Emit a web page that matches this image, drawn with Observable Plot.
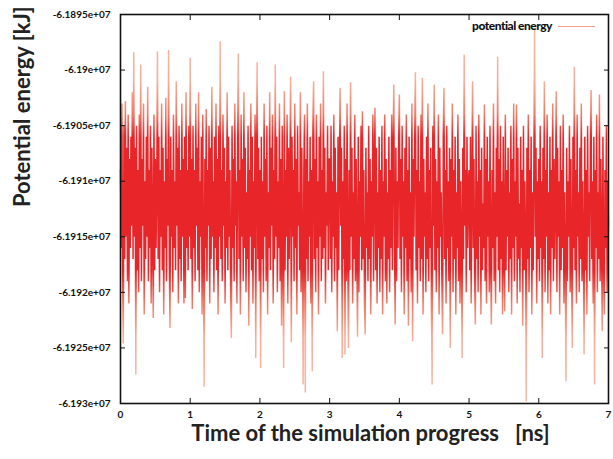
<!DOCTYPE html>
<html><head><meta charset="utf-8">
<script src="https://cdn.jsdelivr.net/npm/d3@7"></script>
<script src="https://cdn.jsdelivr.net/npm/@observablehq/plot@0.6"></script>
<style>
body{margin:0;background:#fff;}
#wrap{position:relative;width:613px;height:459px;}
#legtext{position:absolute;right:61px;top:18px;font:900 12px Lato, sans-serif;color:#111;letter-spacing:-0.5px;}
#legline{position:absolute;left:558px;top:26px;width:37px;height:1px;background:#f4a08c;}
</style></head><body><div id="wrap"><div id="legtext">potential energy</div><div id="legline"></div></div>
<script>
const seriesName = "potential energy";
const xLabel = "Time of the simulation progress\u00a0\u00a0\u00a0[ns]";
const yLabel = "Potential energy [kJ]";
const xTicks = [0, 1, 2, 3, 4, 5, 6, 7];
const xTickLabels = ["0", "1", "2", "3", "4", "5", "6", "7"];
const yTicks = [-61930000, -61925000, -61920000, -61915000, -61910000, -61905000, -61900000, -61895000];
const yTickLabels = ["-6.193e+07", "-6.1925e+07", "-6.192e+07", "-6.1915e+07", "-6.191e+07", "-6.1905e+07", "-6.19e+07", "-6.1895e+07"];
const timeStep = 0.01; // ns between samples

// potential energy [kJ], one sample every 0.01 ns (0-1 ns, 1-2 ns, ...)
const energy0 = [
-61909000,-61916000,-61903000,-61918000,-61924600,-61905000,-61917000,-61902800,-61915000,-61907000,
-61919000,-61904000,-61921000,-61908000,-61916000,-61906000,-61914000,-61902000,-61917000,-61898400,
-61915000,-61907000,-61927400,-61905000,-61918000,-61909000,-61920000,-61904000,-61916000,-61899500,
-61919000,-61908000,-61914000,-61903000,-61922000,-61910000,-61917000,-61906000,-61915000,-61901500,
-61919000,-61909000,-61916000,-61905000,-61921000,-61907000,-61914000,-61922300,-61904000,-61918000,
-61908000,-61916000,-61911000,-61898300,-61917000,-61906000,-61920000,-61909000,-61915000,-61903000,
-61918000,-61907000,-61922000,-61910000,-61916000,-61902500,-61919000,-61908000,-61914000,-61898200,
-61917000,-61923200,-61906000,-61915000,-61909000,-61920000,-61904000,-61916000,-61910000,-61918000,
-61901000,-61914000,-61907000,-61921000,-61905000,-61917000,-61909000,-61919000,-61903000,-61915000,
-61908000,-61921000,-61906000,-61920500,-61902000,-61916000,-61909000,-61918000,-61905000,-61915000];
const energy1 = [
-61898900,-61917000,-61908000,-61921500,-61905000,-61916000,-61909000,-61919000,-61903000,-61914000,
-61907000,-61918000,-61902000,-61920000,-61910000,-61915000,-61906000,-61922000,-61904000,-61917000,
-61928500,-61908000,-61916000,-61903500,-61919000,-61909000,-61914000,-61905000,-61921000,-61907000,
-61917000,-61901500,-61915000,-61910000,-61920000,-61906000,-61916000,-61903000,-61918000,-61908000,
-61922000,-61905000,-61915000,-61897400,-61917000,-61909000,-61919000,-61904000,-61914000,-61907000,
-61921000,-61910000,-61916000,-61902000,-61918000,-61906000,-61915000,-61909000,-61920000,-61924100,
-61905000,-61916000,-61908000,-61919000,-61903000,-61914000,-61910000,-61921000,-61906000,-61898500,
-61917000,-61909000,-61922000,-61904000,-61915000,-61908000,-61919000,-61902000,-61916000,-61907000,
-61920000,-61911000,-61917000,-61905000,-61923000,-61909000,-61915000,-61903000,-61918000,-61906000,
-61921000,-61910000,-61916000,-61904000,-61925900,-61908000,-61899300,-61917000,-61907000,-61919000];
const energy2 = [
-61909000,-61926800,-61906000,-61917000,-61910000,-61920000,-61903000,-61915000,-61908000,-61919000,
-61905000,-61922000,-61911000,-61916000,-61902000,-61918000,-61907000,-61914000,-61904000,-61921000,
-61909000,-61917000,-61899500,-61915000,-61906000,-61920000,-61910000,-61916000,-61903000,-61919000,
-61908000,-61923000,-61905000,-61916000,-61926800,-61901900,-61918000,-61909000,-61915000,-61904000,
-61921000,-61907000,-61917000,-61910000,-61900600,-61924500,-61906000,-61915000,-61909000,-61919000,
-61903000,-61916000,-61908000,-61922000,-61905000,-61914000,-61911000,-61918000,-61902000,-61920000,
-61907000,-61916000,-61928300,-61909000,-61904000,-61929000,-61908000,-61917000,-61903000,-61919000,
-61910000,-61915000,-61906000,-61921000,-61909000,-61927100,-61905000,-61901000,-61917000,-61908000,
-61920000,-61904000,-61916000,-61910000,-61922000,-61906000,-61915000,-61903000,-61919000,-61909000,
-61917000,-61900100,-61916000,-61907000,-61921000,-61911000,-61914000,-61905000,-61918000,-61908000];
const energy3 = [
-61908000,-61917000,-61905000,-61920000,-61910000,-61915000,-61904000,-61919000,-61907000,-61916000,
-61911000,-61923500,-61906000,-61918000,-61909000,-61901600,-61914000,-61907000,-61925900,-61910000,
-61917000,-61905000,-61925600,-61908000,-61919000,-61903000,-61916000,-61925000,-61909000,-61918000,
-61901100,-61915000,-61907000,-61921000,-61911000,-61917000,-61904000,-61919000,-61908000,-61916000,
-61924000,-61906000,-61920000,-61910000,-61915000,-61905000,-61918000,-61903700,-61917000,-61909000,
-61921000,-61923800,-61907000,-61916000,-61911000,-61919000,-61905000,-61917000,-61908000,-61922000,
-61910000,-61915000,-61904000,-61919000,-61909000,-61903400,-61918000,-61907000,-61921000,-61911000,
-61916000,-61906000,-61920000,-61909000,-61917000,-61905000,-61922000,-61910000,-61915000,-61904000,
-61919000,-61908000,-61921000,-61911000,-61917000,-61906000,-61920000,-61909000,-61916000,-61904000,
-61918000,-61908000,-61901300,-61915000,-61922900,-61907000,-61919000,-61910000,-61916000,-61906000];
const energy4 = [
-61902200,-61917000,-61908000,-61920000,-61905000,-61915000,-61910000,-61922000,-61907000,-61916000,
-61904000,-61919000,-61909000,-61923000,-61906000,-61917000,-61911000,-61920000,-61903000,-61924400,
-61908000,-61915000,-61906000,-61900200,-61918000,-61909000,-61921000,-61905000,-61916000,-61910000,
-61919000,-61904000,-61917000,-61900700,-61922000,-61908000,-61915000,-61911000,-61920000,-61906000,
-61917000,-61903000,-61919000,-61909000,-61916000,-61907000,-61921000,-61928300,-61905000,-61914000,
-61901300,-61918000,-61908000,-61920000,-61910000,-61916000,-61904000,-61922000,-61907000,-61915000,
-61911000,-61919000,-61923800,-61906000,-61901600,-61917000,-61909000,-61921000,-61905000,-61916000,
-61910000,-61919000,-61907000,-61925000,-61908000,-61915000,-61903000,-61920000,-61909000,-61917000,
-61906000,-61922000,-61911000,-61916000,-61904000,-61919000,-61908000,-61921000,-61910000,-61915000,
-61925900,-61907000,-61917000,-61898600,-61914000,-61909000,-61920000,-61906000,-61916000,-61910000];
const energy5 = [
-61909000,-61918000,-61906000,-61921000,-61911000,-61901000,-61916000,-61908000,-61919000,-61922900,
-61905000,-61917000,-61910000,-61920000,-61904000,-61915000,-61909000,-61922000,-61907000,-61918000,
-61912000,-61916000,-61903100,-61919000,-61908000,-61921000,-61906000,-61915000,-61910000,-61920000,
-61905000,-61917000,-61922900,-61909000,-61916000,-61903000,-61919000,-61911000,-61921000,-61907000,
-61915000,-61898800,-61918000,-61908000,-61920000,-61905000,-61917000,-61910000,-61922000,-61906000,
-61916000,-61921700,-61904000,-61918000,-61909000,-61915000,-61907000,-61920000,-61911000,-61917000,
-61905000,-61922000,-61908000,-61916000,-61903000,-61919000,-61910000,-61915000,-61903100,-61921000,
-61907000,-61917000,-61912000,-61920000,-61906000,-61916000,-61909000,-61923000,-61905000,-61918000,
-61910000,-61915000,-61929800,-61907000,-61917000,-61904000,-61920000,-61909000,-61916000,-61906000,
-61922000,-61911000,-61918000,-61908000,-61896200,-61915000,-61907000,-61921000,-61910000,-61917000];
const energy6 = [
-61908000,-61919000,-61905000,-61916000,-61910000,-61925900,-61907000,-61917000,-61901000,-61920000,
-61909000,-61915000,-61904000,-61921000,-61911000,-61918000,-61906000,-61922000,-61909000,-61916000,
-61903000,-61919000,-61908000,-61917000,-61912000,-61901900,-61920000,-61907000,-61915000,-61910000,
-61922000,-61905000,-61918000,-61909000,-61916000,-61904000,-61921000,-61911000,-61917000,-61928000,
-61907000,-61919000,-61910000,-61915000,-61905000,-61920000,-61908000,-61917000,-61925000,-61906000,
-61916000,-61899700,-61918000,-61909000,-61921000,-61904000,-61915000,-61911000,-61920000,-61907000,
-61917000,-61903000,-61919000,-61910000,-61916000,-61925600,-61906000,-61918000,-61909000,-61922000,
-61905000,-61915000,-61911000,-61919000,-61907000,-61901800,-61917000,-61910000,-61921000,-61906000,
-61928300,-61909000,-61916000,-61904000,-61920000,-61911000,-61917000,-61902200,-61919000,-61908000,
-61915000,-61923500,-61906000,-61918000,-61922000,-61909000,-61916000,-61905000,-61920000,-61910000,
-61914000];

// stroke shading: dense core of the trace is deep red, sparse excursions look light
const shadeLevels = [-61895000, -61901000, -61904000, -61906000, -61918000, -61921000, -61924000, -61930000];
const shadeColors = ["#f8b9a7", "#f7ae9a", "#f07a66", "#e8262a", "#e8262a", "#f07a66", "#f7ae9a", "#f8b9a7"];

const energy = [...energy0, ...energy1, ...energy2, ...energy3, ...energy4, ...energy5, ...energy6];
const table = energy.map((e, i) => ({time: +(i * timeStep).toFixed(2), energy: e, series: seriesName}));

const fmtY = d => yTickLabels[yTicks.indexOf(d)];
const fmtX = d => xTickLabels[xTicks.indexOf(d)];

const chart = Plot.plot({
  width: 613, height: 459,
  marginLeft: 120, marginRight: 5, marginTop: 14, marginBottom: 56,
  style: {fontFamily: "Lato, sans-serif", background: "#fff", color: "#111"},
  x: {domain: [0, 7]},
  y: {domain: [-61930000, -61895000]},
  marks: [
    Plot.line(table, {x: "time", y: "energy", stroke: "url(#pe-shade)", strokeWidth: 1.5, strokeLinejoin: "bevel"}),
    Plot.frame({stroke: "#111", strokeWidth: 1.6}),
    Plot.axisY(yTicks, {anchor: "left", tickSize: -5, tickPadding: 15, tickFormat: fmtY, fontSize: 10, fontWeight: "bold", label: null}),
    Plot.axisY(yTicks, {anchor: "right", tickSize: -5, tickFormat: () => "", label: null}),
    Plot.axisX(xTicks, {anchor: "bottom", tickSize: -5, tickPadding: 12, tickFormat: fmtX, fontSize: 10, fontWeight: "bold", label: null}),
    Plot.axisX(xTicks, {anchor: "top", tickSize: -5, tickFormat: () => "", label: null}),
    Plot.text([xLabel], {text: d => d, frameAnchor: "bottom", dx: 6, dy: 37, fontSize: 22, fontWeight: "bold", fill: "#222"}),
    Plot.text([yLabel], {text: d => d, frameAnchor: "left", dx: -98, dy: -2, rotate: -90, fontSize: 22, fontWeight: "bold", fill: "#222"})
  ]
});

// gradient for the trace, positioned with the chart's own y scale
const ys = chart.scale("y");
const yTop = ys.apply(ys.domain[1]), yBot = ys.apply(ys.domain[0]);
const grad = d3.select(chart).insert("defs", ":first-child")
  .append("linearGradient").attr("id", "pe-shade").attr("gradientUnits", "userSpaceOnUse")
  .attr("x1", 0).attr("x2", 0).attr("y1", yTop).attr("y2", yBot);
shadeLevels.forEach((v, i) => {
  grad.append("stop").attr("offset", (ys.apply(v) - yTop) / (yBot - yTop)).attr("stop-color", shadeColors[i]);
});
document.getElementById("wrap").prepend(chart);
</script></body></html>
